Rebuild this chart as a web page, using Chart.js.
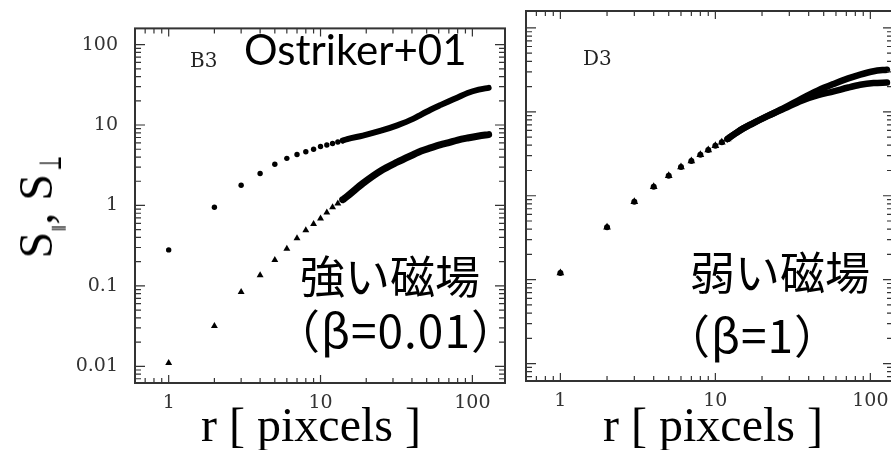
<!DOCTYPE html>
<html>
<head>
<meta charset="utf-8">
<script src="https://cdn.jsdelivr.net/npm/chart.js@4.4.1/dist/chart.umd.min.js"></script>
<style>
  body { margin: 0; width: 891px; height: 450px; overflow: hidden; background: #fff; position: relative; }
  canvas { position: absolute; top: 0; }
  .t { position: absolute; white-space: nowrap; line-height: 1; color: #000; }
  .jp { font-family: "Noto Sans CJK JP"; font-size: 45px; }
  .par { font-family: "Noto Sans CJK JP"; font-size: 46px; letter-spacing: 1px; }
  .ax { font-family: "Liberation Serif"; font-size: 48px; width: 300px; text-align: center; }
  .yt { font-family: "Liberation Serif"; font-size: 48px; left: 36px; top: 205px; transform: translate(-50%, -50%) rotate(-90deg); }
  .yt .s1 { font-family: "DejaVu Serif"; font-size: 15px; position: relative; top: 12px; }
  .yt .s2 { display: inline-block; font-family: "DejaVu Serif"; font-size: 24px; position: relative; top: 10px; transform-origin: 50% 100%; transform: scale(0.65, 1.3); }
  .tag { font-family: "DejaVu Serif"; font-size: 20px; color: #222; }
</style>
</head>
<body>
<canvas id="left" width="520" height="450" style="left:0"></canvas>
<canvas id="right" width="400" height="450" style="left:510px"></canvas>

<div class="t yt">S<span class="s1">∥</span>, S<span class="s2">⊥</span></div>

<div class="t tag" style="left:190px;top:50px">B3</div>
<div class="t tag" style="left:583px;top:48px">D3</div>
<div class="t" style="left:244px;top:28px;font-family:Lato;font-size:42px">Ostriker+01</div>
<div class="t jp" style="left:300px;top:252px">強い磁場</div>
<div class="t par" style="left:274px;top:305px">（β=0.01）</div>
<div class="t jp" style="left:690px;top:248px">弱い磁場</div>
<div class="t par" style="left:664px;top:310px">（β=1）</div>
<div class="t ax" style="left:161px;top:401px">r [ pixcels ]</div>
<div class="t ax" style="left:563px;top:401px">r [ pixcels ]</div>

<script>
const xTicks = [1, 10, 100];
const yTicks = [0.01, 0.1, 1, 10, 100];
const minorSteps = [2, 3, 4, 5, 6, 7, 8, 9];

// B3 (beta = 0.01): separate markers at small r
const rDotsB = [1, 2, 3, 4, 5, 6, 7, 8, 9, 10, 11, 12, 13, 14];
const parDotsB = [0.28, 0.95, 1.78, 2.5, 3.25, 3.85, 4.3, 4.65, 5.0, 5.4, 5.65, 5.9, 6.15, 6.4];
const perpDotsB = [0.011, 0.0316, 0.084, 0.136, 0.21, 0.29, 0.39, 0.49, 0.59, 0.69, 0.82, 0.95, 1.06, 1.18];
// B3: markers merge into a band at large r
const rBandB = [14, 15, 19, 25, 32, 41, 46, 53, 62, 69, 80, 93, 110, 128];
const parBandB = [6.4, 6.7, 7.4, 8.5, 9.9, 12.0, 13.5, 15.5, 17.8, 19.5, 22, 25, 27.5, 29];
const perpBandB = [1.18, 1.3, 1.88, 2.7, 3.45, 4.3, 4.75, 5.2, 5.7, 6.0, 6.5, 6.9, 7.3, 7.6];

// D3 (beta = 1)
const rDotsD = [1, 2, 3, 4, 5, 6, 7, 8, 9, 10, 11, 12];
const parDotsD = [0.12, 0.42, 0.85, 1.28, 1.73, 2.2, 2.6, 3.08, 3.5, 3.94, 4.35, 4.75];
const perpDotsD = [0.12, 0.42, 0.85, 1.28, 1.73, 2.2, 2.6, 3.08, 3.5, 3.94, 4.35, 4.75];
const rBandD = [12, 14, 17, 22, 28, 36, 46, 58, 72, 86, 105, 128];
const parBandD = [4.75, 5.8, 7.1, 9.0, 11.2, 14.4, 18, 21.5, 25, 27.8, 30.5, 31.8];
const perpBandD = [4.75, 5.8, 7.1, 9.0, 11.0, 13.6, 15.8, 17.5, 19.5, 21.0, 22.0, 22.3];

const pts = (rs, vs) => rs.map((r, i) => ({x: r, y: vs[i]}));

function tickValues(min, max) {
    const out = [];
    for (let e = Math.floor(Math.log10(min)); e <= Math.ceil(Math.log10(max)); e++) {
        const base = Math.pow(10, e);
        out.push({value: base, major: true});
        minorSteps.forEach(m => out.push({value: m * base, major: false}));
    }
    return out.filter(t => t.value >= min && t.value <= max);
}

// box round the plot with inward ticks on all four sides
const frameTicks = {
    id: 'frameTicks',
    afterDraw(chart) {
        const {ctx, chartArea: a} = chart;
        const xs = chart.scales.x, ys = chart.scales.y;
        ctx.save();
        ctx.strokeStyle = '#333';
        ctx.lineWidth = 1.2;
        ctx.beginPath();
        tickValues(xs.min, xs.max).forEach(t => {
            const px = xs.getPixelForValue(t.value);
            const len = t.major ? 8 : 5;
            ctx.moveTo(px, a.bottom); ctx.lineTo(px, a.bottom - len);
            ctx.moveTo(px, a.top); ctx.lineTo(px, a.top + len);
        });
        tickValues(ys.min, ys.max).forEach(t => {
            const py = ys.getPixelForValue(t.value);
            const len = t.major ? 10 : 6;
            ctx.moveTo(a.left, py); ctx.lineTo(a.left + len, py);
            ctx.moveTo(a.right, py); ctx.lineTo(a.right - len, py);
        });
        ctx.stroke();
        ctx.lineWidth = 2;
        ctx.strokeRect(a.left, a.top, a.right - a.left, a.bottom - a.top);
        ctx.restore();
    }
};

function dots(data, style, radius) {
    return {data, pointStyle: style, pointRadius: radius, backgroundColor: '#000', borderColor: '#000', borderWidth: 0, showLine: false};
}
function band(data, width) {
    return {data, showLine: true, pointRadius: 0, borderColor: '#000', borderWidth: width, cubicInterpolationMode: 'monotone', borderCapStyle: 'round', fill: false};
}

function makePanel(id, sets, opt) {
    const tickFont = {family: 'DejaVu Serif', size: 19};
    return new Chart(document.getElementById(id), {
        type: 'scatter',
        data: {datasets: sets},
        options: {
            responsive: false,
            animation: false,
            layout: {padding: {top: opt.top, right: opt.right, left: 0, bottom: 0}},
            plugins: {legend: {display: false}, tooltip: {enabled: false}},
            scales: {
                x: {
                    type: 'logarithmic', min: 0.63, max: opt.xMax,
                    afterBuildTicks: s => { s.ticks = xTicks.map(v => ({value: v})); },
                    afterFit: s => { s.height = opt.xHeight; },
                    grid: {display: false, drawTicks: false},
                    border: {display: false},
                    ticks: {color: '#333', font: tickFont, padding: 9, maxRotation: 0, autoSkip: false, callback: v => String(v)}
                },
                y: {
                    type: 'logarithmic', min: 0.0062, max: 159,
                    afterBuildTicks: s => { s.ticks = yTicks.map(v => ({value: v})); },
                    afterFit: s => { s.width = opt.yWidth; },
                    grid: {display: false, drawTicks: false},
                    border: {display: false},
                    ticks: {display: opt.yLabels, color: '#333', font: tickFont, padding: 17, autoSkip: false, callback: v => String(v)}
                }
            }
        },
        plugins: [frameTicks]
    });
}

makePanel('left', [
    band(pts(rBandB, parBandB), 6),
    band(pts(rBandB, perpBandB), 7),
    dots(pts(rDotsB, parDotsB), 'circle', 2.7),
    dots(pts(rDotsB, perpDotsB), 'triangle', 4)
], {top: 12, right: 15, xHeight: 67, yWidth: 135, xMax: 164, yLabels: true});

makePanel('right', [
    band(pts(rBandD, parBandD), 6.5),
    band(pts(rBandD, perpBandD), 6.5),
    dots(pts(rDotsD, parDotsD), 'circle', 3),
    dots(pts(rDotsD, perpDotsD), 'triangle', 4.5)
], {top: 11, right: 17, xHeight: 69, yWidth: 16, xMax: 140, yLabels: false});
</script>
</body>
</html>
